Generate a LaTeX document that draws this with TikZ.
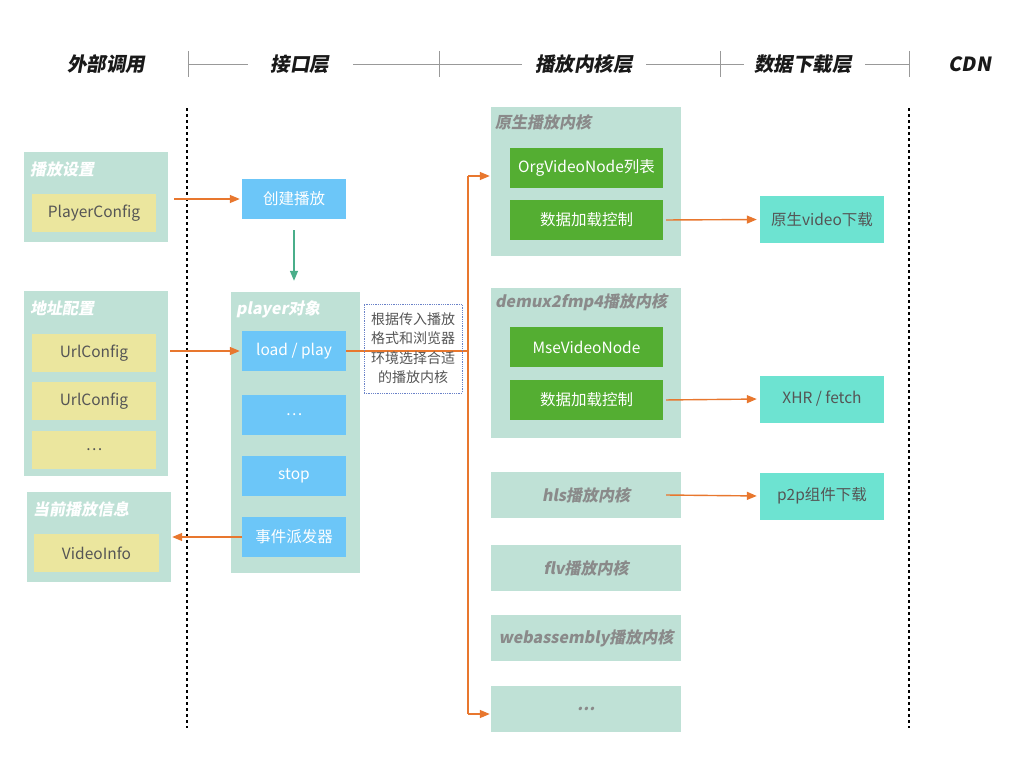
\documentclass[tikz,border=0pt]{standalone}
\usepackage{fontspec}
\setmainfont{Noto Sans CJK SC}
\newfontfamily\slcjk{Noto Sans CJK SC}[FakeSlant=0.18]
\usetikzlibrary{arrows.meta}
\definecolor{ctrgreen}{HTML}{BFE1D6}
\definecolor{cfgyellow}{HTML}{EBE69E}
\definecolor{ifblue}{HTML}{6CC6F8}
\definecolor{kgreen}{HTML}{54AE32}
\definecolor{dlteal}{HTML}{6DE3D1}
\definecolor{arrorange}{HTML}{E8772E}
\definecolor{arrgreen}{HTML}{4AAE8A}
\definecolor{txtgray}{HTML}{555555}
\definecolor{titlegray}{HTML}{8A8A8A}
\definecolor{notblue}{HTML}{6A82C8}
\tikzset{
  ctr/.style={fill=ctrgreen, inner sep=0pt},
  ybox/.style={fill=cfgyellow, text=txtgray, inner sep=0pt, minimum width=124, minimum height=38},
  bbox/.style={fill=ifblue, text=white, inner sep=0pt, minimum width=104, minimum height=40},
  gbox/.style={fill=kgreen, text=white, inner sep=0pt, minimum width=153, minimum height=40},
  kbox/.style={fill=ctrgreen, text=titlegray, inner sep=0pt, minimum width=190, minimum height=46,
    font=\slcjk\bfseries\fontsize{16}{19}\selectfont},
  dbox/.style={fill=dlteal, text=txtgray, inner sep=0pt, minimum width=124, minimum height=47},
  ttl/.style={anchor=west, inner sep=0pt, font=\slcjk\bfseries\fontsize{16}{19}\selectfont},
  hd/.style={inner sep=0pt, text=black!90, font=\slcjk\bfseries\fontsize{19.5}{22}\selectfont},
  oarrow/.style={draw=arrorange, line width=1.4pt, -{Triangle[length=10pt,width=8pt]}},
  garrow/.style={draw=arrgreen, line width=1.4pt, -{Triangle[length=10pt,width=8pt]}},
  sep/.style={black, line width=1.6pt, dash pattern=on 3pt off 3pt},
}
\begin{document}
\begin{tikzpicture}[x=1pt,y=-1pt,font=\fontsize{15.5}{18}\selectfont]
\useasboundingbox (0,0) rectangle (1024,768);
% layer headings
\node[hd] (hcall) at (106,64) {外部调用};
\node[hd] (hapi) at (300,64) {接口层};
\node[hd] (hcore) at (584,64) {播放内核层};
\node[hd] (hload) at (803,64) {数据下载层};
\node[hd] (hcdn) at (970,64) {CDN};
\draw[black!40, line width=1pt] (188,64) -- (248,64) (353,64) -- (522,64) (646,64) -- (744,64) (865,64) -- (909,64);
\foreach \x in {188,439,720,909} \draw[black!40, line width=1pt] (\x,51) -- (\x,77);
\draw[sep] (187,108) -- (187,728);
\draw[sep] (909,108) -- (909,728);
% external calls
\node[ctr, minimum width=144, minimum height=90] (setbox) at (96,197) {};
\node[ttl, text=white] (tset) at (30,169) {播放设置};
\node[ybox] (pcfg) at (94,213) {PlayerConfig};
\node[ctr, minimum width=144, minimum height=185] (addrbox) at (96,383.5) {};
\node[ttl, text=white] (taddr) at (30,308) {地址配置};
\node[ybox] (url1) at (94,353) {UrlConfig};
\node[ybox] (url2) at (94,401) {UrlConfig};
\node[ybox] (udots) at (94,450) {…};
\node[ctr, minimum width=144, minimum height=90] (infobox) at (99,537) {};
\node[ttl, text=white] (tinfo) at (33,509) {当前播放信息};
\node[ybox, minimum width=125] (vinfo) at (96.5,553) {VideoInfo};
% interface layer
\node[bbox] (create) at (294,199) {创建播放};
\node[ctr, minimum width=129, minimum height=281] (player) at (295.5,432.5) {};
\node[ttl, text=white] (tplayer) at (236,309) {player对象};
\node[bbox] (load) at (294,351) {load / play};
\node[bbox] (idots) at (294,415) {…};
\node[bbox] (stop) at (294,476) {stop};
\node[bbox] (event) at (294,537) {事件派发器};
% kernels
\node[ctr, minimum width=190, minimum height=149] (native) at (586,181.5) {};
\node[ttl, text=titlegray] (tnative) at (495,122) {原生播放内核};
\node[gbox] (orglist) at (586.5,168) {OrgVideoNode列表};
\node[gbox] (ctrla) at (586.5,220) {数据加载控制};
\node[ctr, minimum width=190, minimum height=150] (demux) at (586,363) {};
\node[ttl, text=titlegray] (tdemux) at (495,302) {demux2fmp4播放内核};
\node[gbox] (mse) at (586.5,347) {MseVideoNode};
\node[gbox] (ctrlb) at (586.5,400) {数据加载控制};
\node[kbox] (hls) at (586,495) {hls播放内核};
\node[kbox] (flv) at (586,568) {flv播放内核};
\node[kbox] (wasm) at (586,638) {webassembly播放内核};
\node[kbox] (kdots) at (586,709) {…};
% download layer
\node[dbox] (vdl) at (822,219.5) {原生video下载};
\node[dbox] (xhr) at (822,399) {XHR / fetch};
\node[dbox] (p2p) at (822,496) {p2p组件下载};
% connectors
\draw[oarrow, shorten <=6pt, shorten >=2pt] (setbox.east |- create.west) -- (create.west);
\draw[oarrow, shorten <=2pt, shorten >=2pt] (addrbox.east |- load.west) -- (load.west);
\draw[oarrow, shorten >=1pt] (event.west) -- (infobox.east |- event.west);
\draw[garrow, shorten <=11pt, shorten >=11pt] (create.south) -- (create.south |- player.north);
\coordinate (bus) at (468,351);
\coordinate (bustop) at (468,176);
\coordinate (busbot) at (468,714);
\draw[arrorange, line width=1.4pt] (load.east) -- (bus);
\draw[arrorange, line width=1.4pt] (bustop) -- (busbot);
\draw[oarrow, shorten >=1pt] (bustop) -- (native.west |- bustop);
\draw[oarrow, shorten >=1pt] (busbot) -- (kdots.west |- busbot);
\node[draw=notblue, densely dotted, line width=0.8pt, minimum width=98, minimum height=89, inner sep=0pt,
  align=center, text=txtgray, font=\fontsize{14}{19}\selectfont] (note) at (413,348.5)
  {根据传入播放\\格式和浏览器\\[1pt]环境选择合适\\的播放内核};
\draw[oarrow, shorten <=3pt, shorten >=3pt] (ctrla.east) -- (vdl.west);
\draw[oarrow, shorten <=3pt, shorten >=3pt] (ctrlb.east) -- (xhr.west);
\draw[oarrow, shorten >=3pt] ([xshift=-15pt]hls.east) -- (p2p.west);
\end{tikzpicture}
\end{document}
